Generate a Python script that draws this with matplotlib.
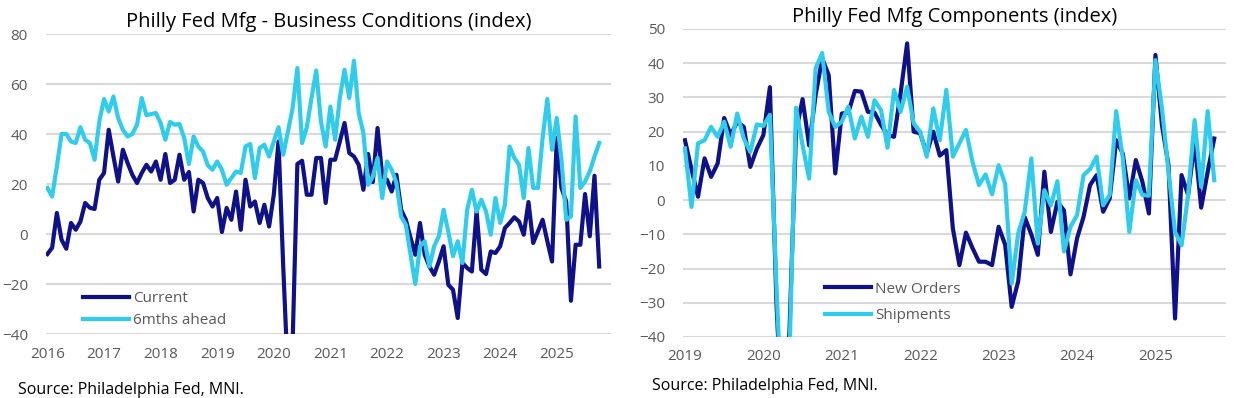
import numpy as np
import matplotlib.pyplot as plt

# Philly Fed manufacturing survey, monthly, left panel Jan 2016 - Oct 2025
left_years = [2016, 2017, 2018, 2019, 2020, 2021, 2022, 2023, 2024, 2025]
current = [
    -8, -5.5, 8.4, -2.3, -5.9, 4.4, 1.7, 5, 12.4, 10.5, 10, 21.7,
    24.4, 41.7, 31, 21, 33.7, 28.4, 23.7, 20.4, 24.4, 27.7, 25, 29,
    21.7, 32, 20.4, 21.7, 31.7, 21.7, 24.8, 9, 21.7, 20.4, 14.4, 11,
    14.4, 0.8, 10.4, 5.7, 17, 1.7, 21.7, 11, 13, 4.4, 11.7, 3,
    15.7, 37, -13, -57, -43, 28, 29.3, 15.7, 15.7, 30.4, 30.4, 12.4,
    29.7, 29.7, 37, 44.4, 32.4, 31, 27.7, 17.7, 32, 20.8, 42.4, 23,
    21.7, 17, 23.7, 9.7, 5.7, -1.6, -8.3, 4.4, -8.3, -13, -16.3, -11,
    -4.9, -20.3, -22.3, -33.6, -11.6, -13.6, -15, 9, -14.3, -16, -7, -7.6,
    -4.9, 2.4, 4.4, 6.7, 5, -0.3, 12.8, -3.6, 1, 5.7, -2.9, -11,
    38.4, 18.4, 13, -26.7, -4.3, -4.3, 16, -0.9, 23.3, -13,
]
ahead_6m = [
    18.4, 15, 27, 40, 40, 37, 36.4, 42.7, 37.7, 36.4, 29.7, 45,
    54, 49, 55, 46.4, 41.7, 39, 40, 43.7, 54.4, 47.5, 48, 48.4,
    44.4, 37.7, 44.8, 43.7, 44, 38.4, 28, 39, 35, 33, 27.5, 25.7,
    29, 25.7, 19.7, 22.4, 25, 24.4, 35, 36, 22.4, 34.4, 35.7, 31,
    37, 42.7, 31.7, 41, 50.4, 66.4, 36.4, 42.7, 54.4, 65.4, 45, 35,
    51, 37.7, 54.4, 65.7, 54.4, 69.3, 48.4, 40.4, 19.7, 23, 30.4, 14.4,
    29, 25.7, 20.4, 7, 3.7, -8.3, -20, -4.9, -2.9, -13, -4.9, -0.9,
    9.7, 1, -8.9, -2.9, -11.6, 9.7, 17.7, 9, 13.7, 9, -0.3, 14.4,
    4.4, 11.7, 35, 30.4, 27.7, 14.4, 34.4, 18.4, 18.4, 38.4, 54, 33.7,
    46.4, 29.7, 5.7, 7, 47, 18.4, 21, 25, 31, 36.4,
]

# right panel Jan 2019 - Oct 2025
right_years = [2019, 2020, 2021, 2022, 2023, 2024, 2025]
new_orders = [
    17.5, 9, 1, 12.2, 6.8, 10.7, 24, 19, 22.9, 21.4, 9.7, 15,
    19, 33, -30, -70, -38, 20, 29.5, 16, 30.7, 41.4, 36.5, 7.8,
    25.3, 25.6, 31.9, 31.7, 25.8, 25.6, 22, 19, 18.5, 31.2, 45.8, 20,
    19.5, 13.6, 20, 13, 14.6, -8.3, -19, -9.5, -14, -18, -18, -19,
    -7.8, -13, -31.2, -23.7, -5, -10, -16, 8.3, -9.3, -0.5, -3, -21.7,
    -11.2, -4.9, 4.4, 7.3, -3.4, 0.5, 17.5, 13.6, 0.5, 11.7, 5.4, -3.9,
    42.4, 21.9, 10.2, -34.6, 7.3, 1.5, 17, -2.2, 8.3, 18,
]
shipments = [
    15.1, -2, 16.6, 17.5, 21.4, 18.5, 22.9, 15.6, 25.3, 18, 14.1, 22.1,
    21.7, 24.9, -25, -70, -45, 27, 16, 6.3, 38.5, 43, 25.8, 21.4,
    22.9, 27.3, 18, 24.4, 18.5, 29.2, 26.3, 15.3, 32.2, 25.8, 33.1, 22.4,
    20, 12.7, 26.8, 17.5, 32.2, 12.7, 16.6, 20.5, 11.2, 4.4, 7.5, 1.7,
    10.2, 4.8, -24.4, -9.7, -3.4, 12.2, -12.7, 2.9, -1.5, 5.5, -15, -7.8,
    -4.4, 7.3, 9.1, 12.7, -1.5, 1.5, 26, 12.2, -9.3, 5.8, 1.5, 1.3,
    40.9, 26.8, 8.3, -9.3, -13.2, 1.5, 23.4, 3.9, 26, 5.8,
]

navy = '#0E1187'
cyan = '#30CCEB'
grey = '#595959'
gridc = '#D9D9D9'

plt.rcParams['font.family'] = ['Open Sans', 'DejaVu Sans']

fig = plt.figure(figsize=(12.34, 3.98), dpi=100)
ax1 = fig.add_axes([46 / 1234, 64 / 398, 565 / 1234, 300 / 398])
ax2 = fig.add_axes([683 / 1234, 61 / 398, 543 / 1234, 308 / 398])


def style(ax, years, ymin, ymax, step, xmax):
    ax.set_ylim(ymin, ymax)
    ax.set_yticks(np.arange(ymin, ymax + 1, step))
    ax.set_xticks(np.arange(len(years)) * 12)
    ax.set_xticklabels([str(y) for y in years])
    ax.set_xlim(-0.3, xmax)
    ax.grid(axis='y', color=gridc, lw=1.5)
    ax.set_axisbelow(True)
    for s in ax.spines.values():
        s.set_visible(False)
    ax.tick_params(axis='both', length=0, labelcolor=grey, labelsize=11)
    ax.tick_params(axis='y', pad=13)
    ax.tick_params(axis='x', pad=9)


x1 = np.arange(len(current))
ax1.plot(x1, current, color=navy, lw=3, label='Current', solid_joinstyle='round')
ax1.plot(x1, ahead_6m, color=cyan, lw=3, label='6mths ahead', solid_joinstyle='round')
style(ax1, left_years, -40, 80, 20, 119.5)
ax1.set_title('Philly Fed Mfg - Business Conditions (index)', fontsize=14.5, pad=5)
ax1.legend(loc='lower left', bbox_to_anchor=(0.0655, 0.02), frameon=False,
           borderpad=0, borderaxespad=0, handlelength=3.0, handletextpad=0.3,
           labelspacing=0.45, fontsize=11, labelcolor=grey)

x2 = np.arange(len(new_orders))
ax2.plot(x2, new_orders, color=navy, lw=3, label='New Orders', solid_joinstyle='round')
ax2.plot(x2, shipments, color=cyan, lw=3, label='Shipments', solid_joinstyle='round')
style(ax2, right_years, -40, 50, 10, 82.8)
ax2.set_title('Philly Fed Mfg Components (index)', fontsize=14.5, pad=5)
ax2.legend(loc='lower left', bbox_to_anchor=(0.2615, 0.045), frameon=False,
           borderpad=0, borderaxespad=0, handlelength=3.0, handletextpad=0.3,
           labelspacing=0.75, fontsize=11, labelcolor=grey)

fig.text(18 / 1234, 1 - 390 / 398, 'Source: Philadelphia Fed, MNI.', fontsize=11.5,
         va='center', ha='left')
fig.text(652 / 1234, 1 - 386 / 398, 'Source: Philadelphia Fed, MNI.', fontsize=11.5,
         va='center', ha='left')

fig.savefig('out.png', dpi=100)
